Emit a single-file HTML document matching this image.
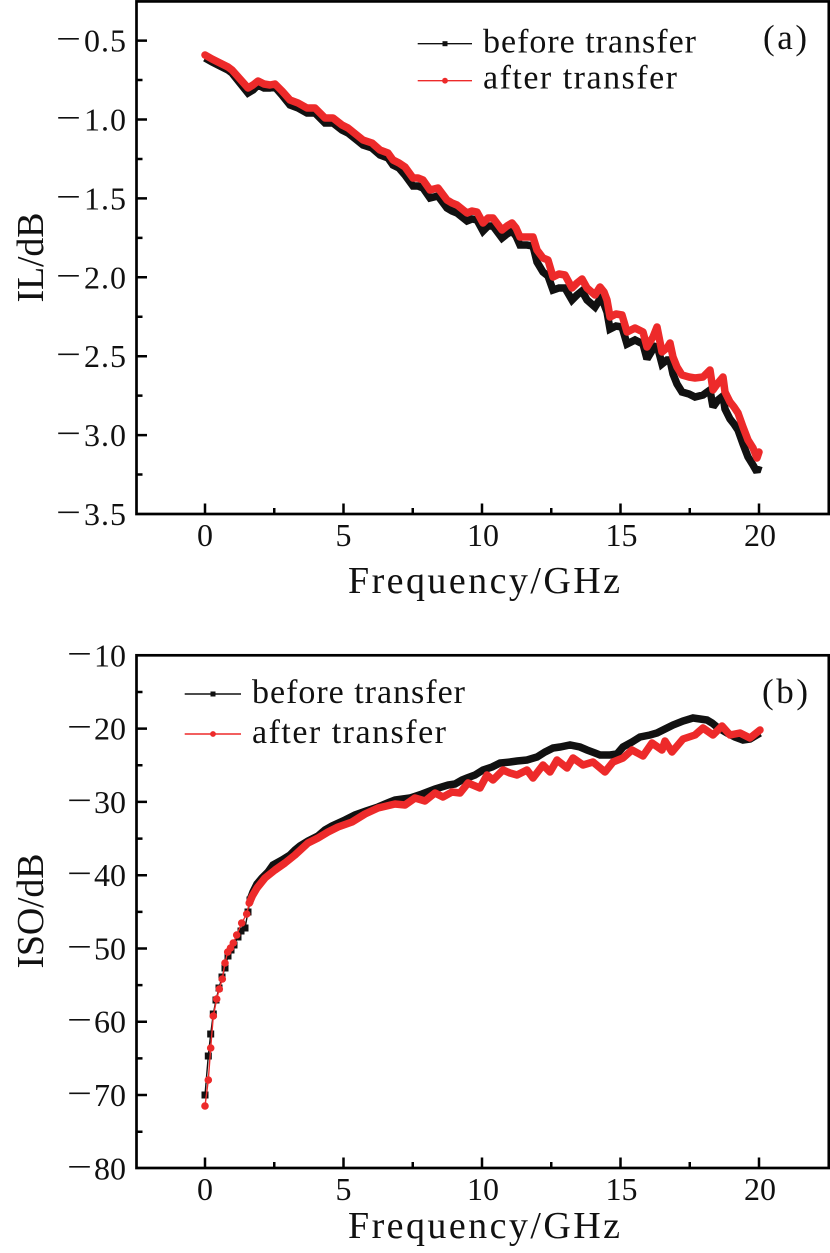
<!DOCTYPE html>
<html><head><meta charset="utf-8"><style>
html,body{margin:0;padding:0;background:#fff;}
svg{display:block;}
text{font-family:"Liberation Serif",serif;fill:#111;}
</style></head><body>
<svg width="830" height="1253" viewBox="0 0 830 1253" xmlns="http://www.w3.org/2000/svg">
<rect width="830" height="1253" fill="#fff"/>

<!-- ================= Panel (a) ================= -->
<polyline fill="none" stroke="#111" stroke-width="7.5" stroke-linejoin="miter" stroke-miterlimit="2" points="205,58 212,62 220,66 228,70 232,73 240,83 248,93 253,90 258,85 264,88 270,88 275,87 282,95 290,105 298,108 307,113 315,113 320,118 325,123 333,123 342,130 348,133 353,137 358,141 363,145 372,148 380,155 388,158 393,165 399,168 405,175 413,186 418,186 423,188 430,198 438,196 447,208 452,211 457,213 467,221 472,219 477,220 483,231 488,226 493,226 502,238 507,234 512,231 516,236 520,245 527,245 533,246 537,262 543,272 548,276 553,290 559,288 565,288 572,300 577,295 582,291 587,300 595,307 600,299 604,304 607,312 610,329 616,326 622,327 627,344 635,340 643,344 647,359 653,349 657,345 662,364 667,360 670,360 673,374 677,384 682,392 689,394 695,397 703,395 710,390 713,407 718,400 723,396 725,409 730,419 734,424 738,430 743,444 748,457 753,465 757,472 759,466"/>
<polyline fill="none" stroke="#ed2a2a" stroke-width="7.5" stroke-linejoin="round" stroke-linecap="round" points="205,55 212,59 220,63 228,67 232,70 240,79 248,88 253,85 258,81 264,84 270,85 275,84 282,91 290,100 298,103 307,108 315,108 320,113 325,118 333,118 342,125 348,128 353,132 358,136 363,140 372,143 380,150 388,153 393,160 399,163 405,167 413,178 418,178 423,180 430,190 438,188 447,200 452,203 457,205 467,213 472,211 477,212 483,223 488,218 493,218 502,230 507,226 512,223 516,228 520,237 527,237 533,237 537,250 543,258 548,260 553,277 559,274 565,275 572,288 577,283 582,279 587,288 595,295 600,287 604,292 607,300 610,317 616,314 622,315 627,332 635,328 643,332 647,347 653,337 657,327 662,352 667,348 670,343 673,357 677,367 682,375 689,377 695,378 703,377 710,370 713,390 718,383 723,377 725,392 730,402 734,407 738,413 743,427 748,440 753,448 757,458 759,452"/>

<rect x="136.5" y="1.4" width="692.3" height="512.6" fill="none" stroke="#000" stroke-width="2.7"/>
<path fill="none" stroke="#000" stroke-width="2.5" d="M205 514V503.5M343.5 514V503.5M482 514V503.5M620.5 514V503.5M759 514V503.5M274.25 514V508M412.75 514V508M551.25 514V508M689.75 514V508
M136.5 40.6H147M136.5 119.5H147M136.5 198.4H147M136.5 277.3H147M136.5 356.2H147M136.5 435.1H147
M136.5 80.05H142.5M136.5 158.95H142.5M136.5 237.85H142.5M136.5 316.75H142.5M136.5 395.65H142.5M136.5 474.55H142.5"/>

<!-- y tick labels (a) -->
<g font-size="32">
<text x="56" y="49.6" textLength="25" lengthAdjust="spacingAndGlyphs">−</text>
<text x="56" y="128.5" textLength="25" lengthAdjust="spacingAndGlyphs">−</text>
<text x="56" y="207.4" textLength="25" lengthAdjust="spacingAndGlyphs">−</text>
<text x="56" y="286.3" textLength="25" lengthAdjust="spacingAndGlyphs">−</text>
<text x="56" y="365.2" textLength="25" lengthAdjust="spacingAndGlyphs">−</text>
<text x="56" y="444.1" textLength="25" lengthAdjust="spacingAndGlyphs">−</text>
<text x="56" y="523" textLength="25" lengthAdjust="spacingAndGlyphs">−</text>
</g>
<g font-size="32" text-anchor="end">
<text x="126" y="51.6" textLength="42" lengthAdjust="spacing">0.5</text>
<text x="126" y="130.5" textLength="42" lengthAdjust="spacing">1.0</text>
<text x="126" y="209.4" textLength="42" lengthAdjust="spacing">1.5</text>
<text x="126" y="288.3" textLength="42" lengthAdjust="spacing">2.0</text>
<text x="126" y="367.2" textLength="42" lengthAdjust="spacing">2.5</text>
<text x="126" y="446.1" textLength="42" lengthAdjust="spacing">3.0</text>
<text x="126" y="525" textLength="42" lengthAdjust="spacing">3.5</text>
</g>
<g font-size="32" text-anchor="middle">
<text x="205" y="546">0</text>
<text x="343.5" y="546">5</text>
<text x="483" y="546" textLength="32" lengthAdjust="spacing">10</text>
<text x="621.5" y="546" textLength="32" lengthAdjust="spacing">15</text>
<text x="760" y="546" textLength="32" lengthAdjust="spacing">20</text>
</g>
<text x="484" y="593" font-size="38" text-anchor="middle" textLength="272" lengthAdjust="spacing">Frequency/GHz</text>
<text transform="translate(43,257.5) rotate(-90)" font-size="38" text-anchor="middle" textLength="90" lengthAdjust="spacing">IL/dB</text>

<path d="M417.7 43.7H472" stroke="#111" stroke-width="1.4"/>
<rect x="442.5" y="41.2" width="5" height="5" fill="#111"/>
<path d="M417.7 80.7H472" stroke="#ed2a2a" stroke-width="1.4"/>
<circle cx="445" cy="80.7" r="2.9" fill="#ed2a2a"/>
<text x="483" y="52.5" font-size="34" textLength="213" lengthAdjust="spacing">before transfer</text>
<text x="483" y="88.5" font-size="34" textLength="194" lengthAdjust="spacing">after transfer</text>
<text x="763" y="49" font-size="35" textLength="44" lengthAdjust="spacing">(a)</text>

<!-- ================= Panel (b) ================= -->
<polyline fill="none" stroke="#111" stroke-width="1.4" points="205,1095 208.3,1056 210.7,1034 213.3,1014 216,1000 219,988 222,977 225,968 228,956 231,950 234,945 238,937 241,931 245,928 248,912 250,900 253,892"/>
<g fill="#111">
<rect x="201.5" y="1091.5" width="7" height="7"/>
<rect x="204.8" y="1052.5" width="7" height="7"/>
<rect x="207.2" y="1030.5" width="7" height="7"/>
<rect x="209.8" y="1010.5" width="7" height="7"/>
<rect x="212.5" y="996.5" width="7" height="7"/>
<rect x="215.5" y="984.5" width="7" height="7"/>
<rect x="218.5" y="973.5" width="7" height="7"/>
<rect x="221.5" y="964.5" width="7" height="7"/>
<rect x="224.5" y="952.5" width="7" height="7"/>
<rect x="227.5" y="946.5" width="7" height="7"/>
<rect x="230.5" y="941.5" width="7" height="7"/>
<rect x="234.5" y="933.5" width="7" height="7"/>
<rect x="237.5" y="927.5" width="7" height="7"/>
<rect x="241.5" y="924.5" width="7" height="7"/>
<rect x="244.5" y="908.5" width="7" height="7"/>
<rect x="246.5" y="896.5" width="7" height="7"/>
</g>
<polyline fill="none" stroke="#111" stroke-width="7.5" stroke-linejoin="miter" stroke-miterlimit="2" points="250,900 253,892 257,884 262,878 268,872 273,865 282,860 290,855 295,850 300,846 308,841 318,836 325,830 332,826 345,820 355,815 366,811 378,807 390,802 395,800 410,798 422,794 435,789 448,785 455,784 462,780 467,778 475,775 483,770 492,767 500,763 510,762 517,761 527,760 537,757 545,752 553,748 560,747 570,745 580,747 587,750 595,753 600,755 610,755 617,754 623,747 632,742 640,737 650,735 657,733 665,729 673,725 683,721 693,718 700,719 707,720 712,723 717,727 722,730 727,733 735,737 743,740 750,739 760,733"/>

<polyline fill="none" stroke="#ed2a2a" stroke-width="1.4" points="205,1106 208.3,1080 210.7,1048 213.3,1016 216.7,999 219.3,989 222.3,979 225,963 227.7,952 230.5,948 233.3,943 236.7,935 241.7,923 246.7,914 249.3,903 252.3,896"/>
<g fill="#ed2a2a">
<circle cx="205" cy="1106" r="3.8"/>
<circle cx="208.3" cy="1080" r="3.8"/>
<circle cx="210.7" cy="1048" r="3.8"/>
<circle cx="213.3" cy="1016" r="3.8"/>
<circle cx="216.7" cy="999" r="3.8"/>
<circle cx="219.3" cy="989" r="3.8"/>
<circle cx="222.3" cy="979" r="3.8"/>
<circle cx="225" cy="963" r="3.8"/>
<circle cx="227.7" cy="952" r="3.8"/>
<circle cx="230.5" cy="948" r="3.8"/>
<circle cx="233.3" cy="943" r="3.8"/>
<circle cx="236.7" cy="935" r="3.8"/>
<circle cx="241.7" cy="923" r="3.8"/>
<circle cx="246.7" cy="914" r="3.8"/>
<circle cx="249.3" cy="903" r="3.8"/>
</g>
<polyline fill="none" stroke="#ed2a2a" stroke-width="7.5" stroke-linejoin="round" stroke-linecap="round" points="249.3,903 252.3,896 257,888 265,878 275,870 285,863 295,855 308,843 318,838 328,832 338,827 352,822 365,814 378,808 395,804 405,805 415,798 425,801 435,793 443,797 452,792 460,793 468,783 480,788 487,775 493,780 503,770 510,773 517,775 527,770 533,778 543,765 550,772 557,760 567,768 573,758 583,765 593,762 605,772 613,762 623,758 632,750 643,756 652,743 662,750 665,741 672,752 683,739 695,735 703,728 713,735 722,726 730,735 740,733 750,738 760,730"/>

<rect x="136.5" y="655.3" width="692.3" height="512.7" fill="none" stroke="#000" stroke-width="2.7"/>
<path fill="none" stroke="#000" stroke-width="2.5" d="M205 1168V1157.5M343.5 1168V1157.5M482 1168V1157.5M620.5 1168V1157.5M759 1168V1157.5M274.25 1168V1162M412.75 1168V1162M551.25 1168V1162M689.75 1168V1162
M136.5 728.6H147M136.5 801.9H147M136.5 875.2H147M136.5 948.5H147M136.5 1021.7H147M136.5 1095H147
M136.5 692H142.5M136.5 765.3H142.5M136.5 838.6H142.5M136.5 911.9H142.5M136.5 985.1H142.5M136.5 1058.4H142.5M136.5 1131.7H142.5"/>

<!-- y tick labels (b) -->
<g font-size="32">
<text x="67" y="664.3" textLength="25" lengthAdjust="spacingAndGlyphs">−</text>
<text x="67" y="737.6" textLength="25" lengthAdjust="spacingAndGlyphs">−</text>
<text x="67" y="810.9" textLength="25" lengthAdjust="spacingAndGlyphs">−</text>
<text x="67" y="884.2" textLength="25" lengthAdjust="spacingAndGlyphs">−</text>
<text x="67" y="957.5" textLength="25" lengthAdjust="spacingAndGlyphs">−</text>
<text x="67" y="1030.7" textLength="25" lengthAdjust="spacingAndGlyphs">−</text>
<text x="67" y="1104" textLength="25" lengthAdjust="spacingAndGlyphs">−</text>
<text x="67" y="1177.3" textLength="25" lengthAdjust="spacingAndGlyphs">−</text>
</g>
<g font-size="32" text-anchor="end">
<text x="126" y="666.3" textLength="32" lengthAdjust="spacing">10</text>
<text x="126" y="739.6" textLength="32" lengthAdjust="spacing">20</text>
<text x="126" y="812.9" textLength="32" lengthAdjust="spacing">30</text>
<text x="126" y="886.2" textLength="32" lengthAdjust="spacing">40</text>
<text x="126" y="959.5" textLength="32" lengthAdjust="spacing">50</text>
<text x="126" y="1032.7" textLength="32" lengthAdjust="spacing">60</text>
<text x="126" y="1106" textLength="32" lengthAdjust="spacing">70</text>
<text x="126" y="1179.3" textLength="32" lengthAdjust="spacing">80</text>
</g>
<g font-size="32" text-anchor="middle">
<text x="205" y="1200">0</text>
<text x="343.5" y="1200">5</text>
<text x="483" y="1200" textLength="32" lengthAdjust="spacing">10</text>
<text x="621.5" y="1200" textLength="32" lengthAdjust="spacing">15</text>
<text x="760" y="1200" textLength="32" lengthAdjust="spacing">20</text>
</g>
<text x="484" y="1238" font-size="38" text-anchor="middle" textLength="272" lengthAdjust="spacing">Frequency/GHz</text>
<text transform="translate(43,911) rotate(-90)" font-size="38" text-anchor="middle" textLength="115" lengthAdjust="spacing">ISO/dB</text>

<path d="M184.7 694H241" stroke="#111" stroke-width="1.4"/>
<rect x="210.5" y="691.5" width="5" height="5" fill="#111"/>
<path d="M184.7 734H241" stroke="#ed2a2a" stroke-width="1.4"/>
<circle cx="213" cy="734" r="2.9" fill="#ed2a2a"/>
<text x="252" y="702.8" font-size="34" textLength="213" lengthAdjust="spacing">before transfer</text>
<text x="252" y="742.8" font-size="34" textLength="194" lengthAdjust="spacing">after transfer</text>
<text x="762" y="703" font-size="35" textLength="46" lengthAdjust="spacing">(b)</text>
</svg>
</body></html>
